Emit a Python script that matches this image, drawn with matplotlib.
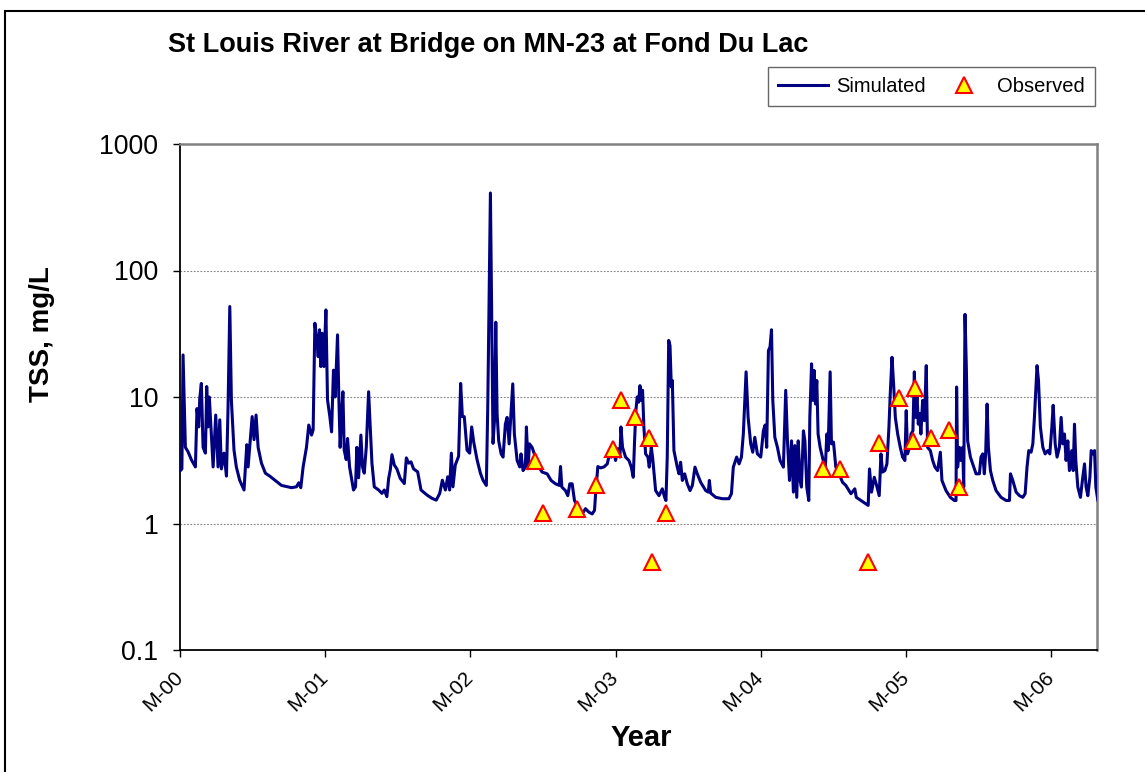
import matplotlib
matplotlib.use("Agg")
import matplotlib.pyplot as plt
from matplotlib.patches import Rectangle
from matplotlib.ticker import FixedLocator, NullLocator
from matplotlib.transforms import ScaledTranslation

plt.rcParams['font.family'] = ['Liberation Sans', 'DejaVu Sans']

# simulated daily TSS (years since start of 2000, mg/L)
sim_year = [
    0.005, 0.013, 0.021, 0.037, 0.055, 0.078, 0.106, 0.117, 0.129, 0.136, 0.147, 0.159, 0.175, 0.184,
    0.193, 0.202, 0.228, 0.246, 0.262, 0.274, 0.285, 0.303, 0.320, 0.331, 0.343, 0.354, 0.372, 0.388,
    0.411, 0.441, 0.460, 0.469, 0.480, 0.497, 0.510, 0.524, 0.538, 0.561, 0.588, 0.618, 0.653, 0.699,
    0.768, 0.802, 0.818, 0.832, 0.848, 0.871, 0.887, 0.906, 0.917, 0.929, 0.940, 0.952, 0.961, 0.970,
    0.979, 0.991, 1.005, 1.016, 1.032, 1.044,
    1.057, 1.069, 1.085, 1.094, 1.103, 1.113, 1.122, 1.131, 1.145, 1.154, 1.168, 1.195, 1.209, 1.218,
    1.230, 1.246, 1.257, 1.269, 1.283, 1.299, 1.310, 1.322, 1.338, 1.368, 1.391, 1.407, 1.425, 1.437,
    1.448, 1.460, 1.476, 1.494, 1.517, 1.545, 1.559, 1.575, 1.591, 1.609, 1.637, 1.660, 1.701, 1.736,
    1.765, 1.789, 1.807, 1.828, 1.844, 1.857, 1.869, 1.880, 1.896, 1.919, 1.933, 1.945, 1.958, 1.977,
    1.995, 2.009, 2.023, 2.046, 2.069, 2.087,
    2.110, 2.120, 2.138, 2.156, 2.166, 2.175, 2.184, 2.195, 2.212, 2.225, 2.241, 2.253, 2.267, 2.280,
    2.292, 2.303, 2.322, 2.340, 2.349, 2.363, 2.379, 2.386, 2.398, 2.407, 2.425, 2.448, 2.471, 2.494,
    2.529, 2.556, 2.586, 2.612, 2.621, 2.630, 2.655, 2.671, 2.685, 2.701, 2.717, 2.747, 2.770, 2.793,
    2.816, 2.839, 2.855, 2.864, 2.878, 2.897, 2.920, 2.943, 2.956, 2.970, 2.984, 3.000, 3.016, 3.030,
    3.037, 3.048, 3.069, 3.092, 3.108, 3.122, 3.131, 3.140,
    3.149, 3.159, 3.168, 3.177, 3.186, 3.195, 3.207, 3.223, 3.232, 3.246, 3.255, 3.276, 3.299, 3.322,
    3.338, 3.347, 3.356, 3.366, 3.375, 3.384, 3.391, 3.402, 3.425, 3.437, 3.448, 3.460, 3.476, 3.494,
    3.513, 3.529, 3.547, 3.563, 3.586, 3.621, 3.639, 3.646, 3.655, 3.690, 3.736, 3.781, 3.798, 3.811,
    3.834, 3.851, 3.867, 3.880, 3.890, 3.899, 3.913, 3.931, 3.945, 3.959, 3.977, 4.000, 4.018, 4.030,
    4.041, 4.053, 4.064, 4.074, 4.083, 4.097, 4.115, 4.133, 4.156,
    4.172, 4.184, 4.198, 4.212, 4.225, 4.235, 4.248, 4.258, 4.271, 4.280, 4.294, 4.304, 4.317, 4.331,
    4.338, 4.350, 4.359, 4.368, 4.377, 4.386, 4.395, 4.409, 4.425, 4.444, 4.455, 4.464, 4.478, 4.487,
    4.501, 4.517, 4.540, 4.563, 4.586, 4.621, 4.648, 4.658, 4.690, 4.724, 4.740, 4.749, 4.763, 4.782,
    4.798, 4.816, 4.828, 4.839, 4.855, 4.869, 4.883, 4.892, 4.904, 4.915, 4.927, 4.943, 4.961, 4.977,
    4.993, 5.002, 5.011, 5.025, 5.035, 5.048, 5.058, 5.067, 5.076, 5.085, 5.094, 5.103, 5.115, 5.127,
    5.140, 5.149, 5.168, 5.184, 5.200, 5.218,
    5.237, 5.248, 5.276, 5.306, 5.333, 5.345, 5.349, 5.356, 5.368, 5.379, 5.391, 5.398, 5.407, 5.416,
    5.425, 5.444, 5.460, 5.483, 5.506, 5.517, 5.529, 5.540, 5.549, 5.559, 5.568, 5.582, 5.598, 5.621,
    5.655, 5.690, 5.713, 5.720, 5.736, 5.759, 5.782, 5.805, 5.821, 5.834, 5.846, 5.862, 5.874, 5.885,
    5.903, 5.913, 5.926, 5.943, 5.959, 5.977, 5.991, 6.005, 6.014, 6.028, 6.041, 6.057, 6.069, 6.080,
    6.092, 6.103, 6.115, 6.126, 6.142, 6.152, 6.161, 6.170, 6.184, 6.202, 6.218, 6.230, 6.241, 6.253,
    6.267, 6.276, 6.287, 6.299, 6.308, 6.322, 6.333,
]
sim_tss = [
    2.64, 2.7, 21.5, 4.0, 3.7, 3.2, 2.8, 8.1, 5.8, 9.7, 12.8, 4.0, 3.6, 12.1,
    5.8, 10.0, 2.8, 7.2, 2.8, 6.6, 2.7, 3.6, 2.37, 8.4, 51.9, 9.4, 3.8, 2.8,
    2.2, 1.84, 4.2, 2.8, 4.0, 7.0, 4.6, 7.2, 4.0, 3.0, 2.5, 2.37, 2.2, 2.0,
    1.92, 1.95, 2.1, 1.92, 2.8, 4.0, 6.0, 5.0, 5.5, 38.3, 30, 20.8, 34, 17.4,
    31.9, 17.4, 48.8, 9.5, 7.0, 5.3,
    16.3, 10, 31, 10, 4.0, 7.4, 11, 3.8, 3.2, 4.7, 2.8, 1.84, 1.95, 4.0,
    2.3, 5.0, 2.8, 2.5, 4.0, 11, 5.8, 3.0, 1.95, 1.84, 1.73, 1.84, 1.63, 2.27,
    2.64, 3.5, 2.9, 2.7, 2.27, 2.07, 3.3, 3.0, 3.07, 2.7, 2.56, 1.84, 1.68, 1.58,
    1.53, 1.73, 2.2, 1.84, 2.34, 1.84, 3.6, 1.95, 2.9, 3.4, 12.8, 7.0, 7.0, 3.8,
    3.6, 5.8, 4.4, 3.2, 2.5, 2.2,
    2.0, 8.8, 410, 4.3, 6.5, 39, 7.4, 4.5, 3.55, 3.35, 6.1, 6.9, 4.26, 7.4,
    12.7, 5.1, 3.15, 2.8, 3.55, 2.62, 2.8, 5.8, 2.8, 4.26, 4.0, 3.35, 2.8, 2.55,
    2.47, 2.19, 2.06, 2.0, 2.82, 1.94, 1.82, 1.66, 2.06, 2.06, 1.52, 1.31, 1.19, 1.31,
    1.23, 1.19, 1.27, 1.82, 2.82, 2.75, 2.8, 2.96, 3.45, 3.35, 4.0, 3.15, 3.9, 3.35,
    5.8, 4.0, 3.35, 3.15, 2.8, 2.32, 4.5, 7.8,
    10, 9.1, 12.3, 9.4, 11.3, 5.8, 3.55, 3.35, 2.79, 4.0, 3.35, 1.82, 1.66, 1.88,
    1.61, 1.52, 3.35, 28, 25.5, 12, 13.5, 3.77, 2.79, 2.47, 3.05, 2.19, 2.47, 2.06,
    1.82, 2.0, 2.79, 2.47, 2.12, 1.82, 1.77, 2.19, 1.74, 1.61, 1.57, 1.57, 1.72, 2.79,
    3.35, 2.96, 3.35, 5.1, 9.4, 15.8, 6.9, 4.26, 3.66, 4.8, 3.55, 3.35, 5.4, 6.0,
    4.0, 23.3, 24.9, 34, 9.4, 4.8, 4.0, 3.15, 2.79,
    11.3, 4.5, 2.19, 4.5, 1.77, 4.13, 1.61, 4.5, 2.19, 1.94, 5.4, 4.5, 1.94, 1.52,
    6.9, 18.3, 9.4, 16.2, 8.8, 13.5, 5.1, 4.0, 3.35, 2.62, 5.1, 3.77, 15.8, 4.26,
    4.4, 2.79, 2.47, 2.12, 2.0, 1.72, 1.88, 1.61, 1.52, 1.43, 1.39, 2.7, 1.77, 2.32,
    2.0, 1.66, 3.55, 2.55, 2.62, 2.96, 5.8, 10.6, 20.6, 12.7, 6.9, 5.1, 4.0, 3.35,
    3.15, 7.8, 3.55, 4.0, 5.1, 5.4, 15.8, 6.9, 10.6, 6.1, 7.4, 5.1, 9.4, 6.5,
    17.7, 4.0, 3.77, 3.15, 2.79, 2.62,
    3.66, 2.19, 1.82, 1.61, 1.52, 1.52, 12, 2.79, 4.0, 3.15, 4.0, 1.94, 45, 17.2,
    4.5, 3.35, 2.96, 2.47, 2.47, 3.35, 3.55, 2.47, 3.55, 8.8, 4.0, 2.62, 2.19, 1.82,
    1.61, 1.52, 1.52, 2.47, 2.19, 1.77, 1.66, 1.61, 1.72, 2.79, 3.77, 3.66, 4.26, 6.9,
    17.7, 13.5, 5.8, 4.0, 3.55, 3.77, 3.55, 5.8, 8.6, 4.26, 3.35, 4.0, 6.9, 4.26,
    5.1, 3.15, 4.5, 2.62, 3.77, 2.62, 6.1, 3.15, 1.94, 1.61, 2.32, 2.96, 1.94, 1.66,
    2.32, 3.77, 3.55, 3.77, 1.94, 1.52, 1.43,
]

# observed grab samples
obs_year = [2.448, 2.497, 2.731, 2.867, 2.982, 3.037, 3.135, 3.230, 3.248, 3.345,
            4.432, 4.543, 4.738, 4.816, 4.949, 5.046, 5.064, 5.172, 5.299, 5.368]
obs_tss = [3.1, 1.2, 1.3, 2.0, 3.9, 9.5, 7.0, 4.7, 0.5, 1.2,
           2.7, 2.7, 0.5, 4.3, 9.8, 4.5, 11.8, 4.7, 5.5, 1.95]

year_ticks = [0, 1, 2, 3, 4, 5, 6]
year_labels = ['M-00', 'M-01', 'M-02', 'M-03', 'M-04', 'M-05', 'M-06']
tss_ticks = [0.1, 1, 10, 100, 1000]
tss_labels = ['0.1', '1', '10', '100', '1000']

W, H = 1145, 772
fig = plt.figure(figsize=(W / 100, H / 100), dpi=100)
ax = fig.add_axes([180 / W, 1 - 650 / H, (1097 - 180) / W, (650 - 144) / H])

ax.plot(sim_year, sim_tss, color='#000080', lw=2.2, label='Simulated', zorder=3)
ax.plot(obs_year, obs_tss, ls='none', marker='^', ms=11, mfc='#ffff00', mec='#ff0000',
        mew=1.5, label='Observed', zorder=4)

ax.set_yscale('log')
ax.set_ylim(0.1, 1000)
ax.set_xlim(0, 6.316)
ax.yaxis.set_major_locator(FixedLocator(tss_ticks))
ax.yaxis.set_minor_locator(NullLocator())
ax.set_yticklabels(tss_labels, fontsize=19.3)
ax.set_xticks(year_ticks)
ax.set_xticklabels(year_labels, fontsize=15, rotation=45, ha='right', va='top',
                   rotation_mode='anchor')
ax.tick_params(axis='both', direction='out', length=5, width=1, color='black')
ax.tick_params(axis='y', pad=10.5)
ax.tick_params(axis='x', pad=1)

# nudge the slanted date labels down and left of their ticks
shift = ScaledTranslation(-7 / 100, -9 / 100, fig.dpi_scale_trans)
for lbl in ax.get_xticklabels():
    lbl.set_transform(lbl.get_transform() + shift)

for v in [1, 10, 100]:
    ax.axhline(v, color='#808080', lw=0.8, ls=(0, (1.5, 1.5)), zorder=1)

for side in ['left', 'bottom']:
    ax.spines[side].set_color('black')
    ax.spines[side].set_linewidth(1.3)
for side in ['top', 'right']:
    ax.spines[side].set_color('#808080')
    ax.spines[side].set_linewidth(1.8)

fig.text(168 / W, 1 - 45 / H, 'St Louis River at Bridge on MN-23 at Fond Du Lac',
         fontsize=19.5, fontweight='bold', ha='left', va='center')
fig.text(42 / W, 1 - 334 / H, 'TSS, mg/L', fontsize=20, fontweight='bold',
         rotation=90, ha='center', va='center')
fig.text(641 / W, 1 - 738 / H, 'Year', fontsize=21, fontweight='bold',
         ha='center', va='center')

leg = fig.legend(loc='upper right', bbox_to_anchor=(1095 / W, 1 - 67 / H), ncol=2,
                 fontsize=14.5, frameon=True, fancybox=False, edgecolor='#404040',
                 handlelength=2.5, columnspacing=0.65, borderpad=0.5, handletextpad=0.4,
                 borderaxespad=0)
leg.get_frame().set_linewidth(1.0)

# outer chart border
fig.patches.append(Rectangle((5 / W, -0.1), 1.2, 1.1 - 11 / H, transform=fig.transFigure,
                             fill=False, ec='black', lw=1.5))

fig.savefig('out.png', dpi=100)
